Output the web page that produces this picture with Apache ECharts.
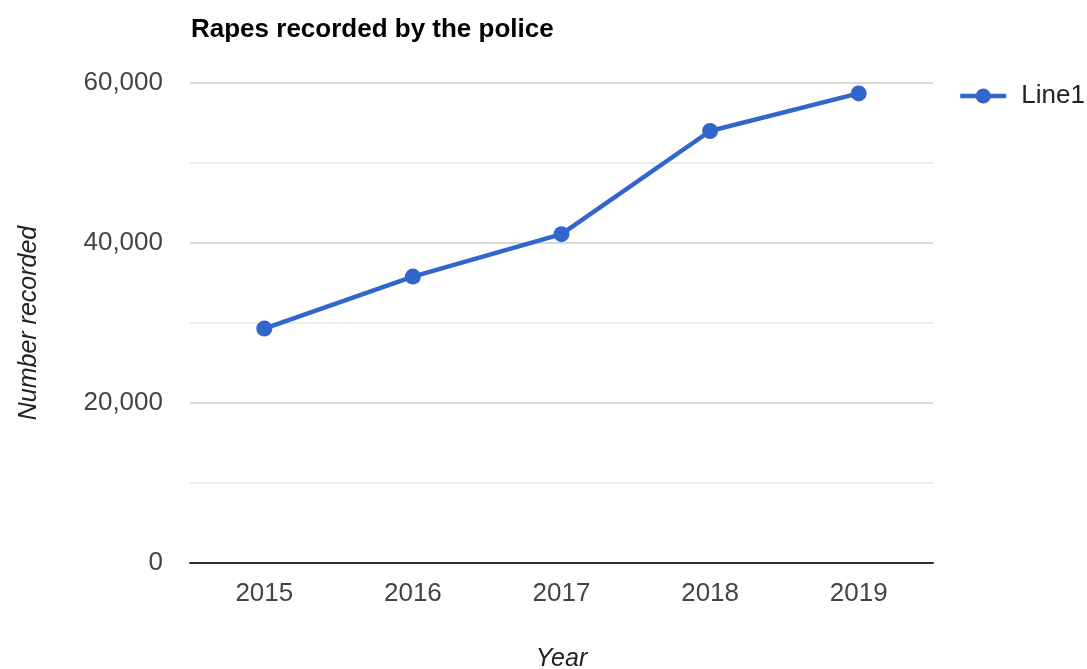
<!DOCTYPE html>
<html>
<head>
<meta charset="utf-8">
<script src="https://cdn.jsdelivr.net/npm/echarts@6/dist/echarts.min.js"></script>
<style>html,body{margin:0;padding:0;background:#fff;}#c{width:1087px;height:669px;}</style>
</head>
<body>
<div id="c"></div>
<script>
const years = ['2015', '2016', '2017', '2018', '2019'];
const line1 = [29300, 35800, 41100, 54000, 58700];
const seriesName = 'Line1';
const titleText = 'Rapes recorded by the police';
const xName = 'Year';
const yName = 'Number recorded';

const chart = echarts.init(document.getElementById('c'), null, {renderer: 'canvas'});
const font = '"Liberation Sans", Arial, sans-serif';
chart.setOption({
  animation: false,
  backgroundColor: '#fff',
  title: {
    text: titleText, left: 186, top: 12,
    textStyle: {fontFamily: font, fontSize: 26, fontWeight: 'bold', color: '#000'}
  },
  legend: {
    data: [seriesName], left: 958, top: 83, padding: 0,
    itemWidth: 46, itemHeight: 19, itemGap: 10,
    lineStyle: {width: 4.5, color: '#3366cc'},
    itemStyle: {color: '#3366cc'},
    textStyle: {fontFamily: font, fontSize: 26, color: '#222', padding: [0, 0, 0, 10]}
  },
  grid: {left: 190, right: 154, top: 83, bottom: 106, containLabel: false, outerBoundsMode: 'none'},
  xAxis: {
    type: 'category', data: years, boundaryGap: true,
    name: xName, nameLocation: 'middle', nameGap: 84,
    nameTextStyle: {fontFamily: font, fontSize: 25, fontStyle: 'italic', color: '#222'},
    axisLine: {lineStyle: {color: '#333', width: 2}},
    axisTick: {show: false},
    axisLabel: {fontFamily: font, fontSize: 26, color: '#444', margin: 18}
  },
  yAxis: {
    type: 'value', min: 0, max: 60000, interval: 10000,
    name: yName, nameLocation: 'middle', nameGap: 148,
    nameTextStyle: {fontFamily: font, fontSize: 25, fontStyle: 'italic', color: '#222'},
    axisLine: {show: false}, axisTick: {show: false},
    axisLabel: {
      fontFamily: font, fontSize: 26, color: '#444', margin: 27,
      formatter: v => (v % 20000 === 0 ? v.toLocaleString('en-US') : '')
    },
    splitLine: {lineStyle: {color: ['#cccccc', '#e6e6e6'], width: 1.5}}
  },
  series: [{
    name: seriesName, type: 'line', data: line1,
    symbol: 'circle', symbolSize: 16,
    lineStyle: {color: '#3366cc', width: 4.5},
    itemStyle: {color: '#3366cc'}
  }]
});
</script>
</body>
</html>
